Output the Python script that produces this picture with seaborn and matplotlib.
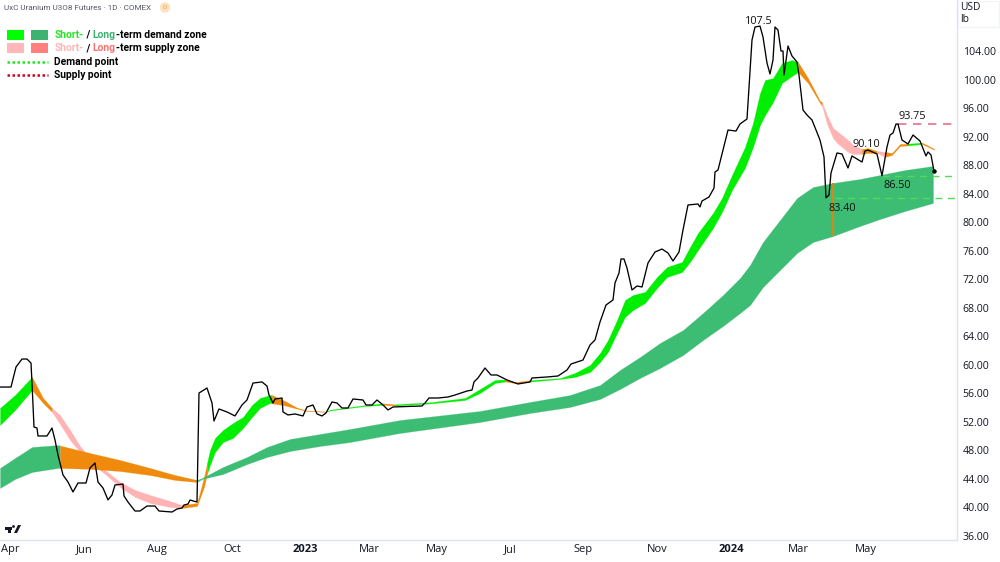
import matplotlib
matplotlib.use("Agg")
import matplotlib.pyplot as plt
import matplotlib.patches as mpatches
import pandas as pd
import seaborn as sns

# Front-month close, indexed by session number on the time scale
price_sessions = [0, 11, 16, 22, 27, 31, 32, 34, 37, 38, 47, 52, 55, 58, 63, 68, 73, 78, 86, 90, 95, 98, 103, 108, 112,
                  115, 123, 124, 128, 135, 140, 147, 155, 159, 172, 177, 182, 184, 188, 190, 197, 199, 207, 212, 214,
                  219, 227, 235, 242, 247, 253, 262, 267, 269, 273, 275, 282, 283, 288, 295, 303, 307, 313, 317, 322,
                  326, 332, 337, 342, 348, 353, 363, 366, 372, 377, 383, 388, 393, 422, 425, 429, 438, 448, 455, 467,
                  472, 474, 478, 485, 491, 497, 507, 518, 530, 532, 547, 558, 567, 571, 583, 590, 595, 600, 606, 613,
                  615, 619, 621, 624, 627, 632, 637, 642, 648, 655, 662, 668, 673, 679, 683, 688, 698, 700, 702, 709,
                  714, 715, 718, 723, 728, 736, 740, 747, 749, 752, 755, 760, 763, 767, 770, 773, 775, 778, 781, 783,
                  784, 788, 792, 797, 799, 803, 807, 812, 820, 824, 826, 829, 831, 837, 842, 848, 852, 862, 865, 868,
                  877, 882, 887, 890, 893, 896, 898, 902, 908, 913, 920, 926, 928, 931, 934]
price_close = [56.84, 56.84, 59.65, 60.77, 60.77, 60.2, 57.4, 51.23, 51.09, 49.97, 49.97, 51.09, 49.4, 47.3, 44.5,
               43.51, 42.11, 43.37, 43.37, 45.48, 46.18, 43.51, 42.67, 41.0, 41.69,
               43.09, 43.23, 41.55, 40.7, 39.44, 39.44, 40.14, 40.14, 39.44, 39.3, 39.72, 39.86, 40.28, 40.42, 40.98,
               40.7, 56.0, 56.7, 54.6, 52.07,
               53.76, 53.34, 52.78, 54.32, 55.02, 57.4, 57.55, 56.98, 55.72, 54.6, 55.16, 55.3, 53.34, 52.92, 53.06,
               52.78, 54.04, 54.32, 53.06, 52.78,
               53.2, 54.74, 54.6, 53.9, 53.9, 55.16, 55.02, 54.32, 54.32, 55.02, 54.32, 53.62, 54.04, 54.18, 54.6,
               55.3, 55.3, 55.44, 55.72, 56.28,
               56.42, 57.55, 58.11, 59.51, 58.53, 58.53, 57.83, 57.27, 57.55, 58.11, 58.25, 58.39, 59.23, 60.07, 60.63,
               62.74, 63.44, 65.97, 68.35, 69.06,
               71.44, 72.84, 74.81, 74.81, 73.55, 70.46, 71.02, 70.88, 74.25, 75.79, 76.21, 75.65, 74.53, 75.79, 78.88,
               82.39, 82.53, 82.11, 82.95, 83.51,
               84.77, 87.02, 87.3, 90.11, 92.91, 92.77, 93.76, 94.46, 98.95, 105.55, 107.37, 107.5, 105.97, 102.32,
               100.77, 102.74, 107.37, 106.95, 104.0, 104.0,
               100.63, 104.7, 103.3, 102.46, 100.63, 95.72, 95.02, 94.32, 91.51, 89.13, 83.4, 83.79, 86.88, 89.69,
               89.55, 87.58, 89.27, 88.42, 89.97, 90.1,
               89.55, 86.5, 90.53, 92.21, 92.49, 93.75, 93.75, 91.51, 90.95, 92.21, 91.37, 89.27, 89.83, 89.41, 87.16]

# Short-term zone edges; the phase letter colours the stretch up to the next session
short_sessions = [0, 15, 32, 43, 52, 60, 70, 80, 90, 105, 120, 135, 150, 170, 182, 197, 204,
                  207, 210, 215, 223, 233, 243, 252, 260, 270, 272, 283, 297, 307, 326, 330, 365, 383,
                  395, 430, 465, 480, 495, 505, 515, 530, 560, 575, 590, 600, 608, 617, 625, 633, 645, 657,
                  667, 682, 690, 698, 713, 722, 732, 745, 753, 760, 765, 773, 782, 792, 798, 808, 820,
                  822, 827, 833, 837, 848, 853, 862, 868, 877, 885, 892, 900, 908, 922, 934]
short_upper = [53.9, 55.72, 58.25, 55.3, 53.9, 52.91, 50.81, 48.56, 46.88, 45.2, 43.51, 42.39, 41.69, 40.84, 40.28,
               40.56, 44.21,
               46.18, 48.0, 49.69, 50.81, 51.79, 52.63, 54.32, 55.3, 55.72, 55.72, 55.02, 53.95, 53.55, 53.4, 53.66,
               54.3, 54.55,
               54.42, 54.7, 55.3, 56.56, 57.83, 57.9, 57.55, 57.8, 58.09, 58.81, 59.93, 61.62, 63.44, 66.25, 69.05,
               69.76, 70.18, 72.28,
               73.69, 74.39, 76.49, 78.46, 81.26, 83.37, 86.6, 90.53, 93.9, 98.11, 99.93, 100.2, 102.32, 102.74,
               102.46, 100.2, 97.0,
               96.84, 95.0, 93.2, 92.77, 91.51, 90.81, 90.25, 90.39, 89.97, 89.83, 89.69, 90.95, 91.0, 91.15, 90.3]
short_lower = [51.51, 53.62, 56.42, 54.6, 53.34, 51.65, 49.41, 47.72, 46.32, 44.63, 42.81, 41.41, 40.56, 40.0, 39.86,
               40.14, 42.81,
               44.63, 45.9, 47.72, 49.12, 49.69, 51.09, 52.63, 53.9, 54.6, 54.53, 54.32, 53.8, 53.47, 53.34, 53.55,
               54.18, 54.32,
               54.25, 54.53, 55.02, 56.0, 57.41, 57.6, 57.4, 57.6, 57.97, 58.25, 58.95, 60.35, 61.76, 64.42, 66.67,
               67.65, 68.63, 70.74,
               72.28, 72.98, 74.39, 76.07, 79.16, 81.41, 84.49, 87.6, 90.53, 93.61, 95.0, 96.84, 99.51, 100.49,
               101.05, 99.51, 96.7,
               96.28, 93.76, 91.79, 91.09, 89.83, 89.55, 89.55, 89.69, 89.69, 89.13, 89.41, 90.67, 90.74, 90.95, 90.15]
short_phase = list("DD" "TT" "SSSSSSSSSS" "TTT" "DDDDDDDDD" "TTTT" "DDD" "T" "DDDDD" "TT"
                   "DDDDDDDDDDDDDDDDDDDDDDDDD" "TTT" "SSSSSS" "TT" "S" "TTT" "D" "TT")

# Long-term zone edges, same convention
long_sessions = [0, 15, 32, 58, 60, 90, 120, 150, 175, 197, 202, 223, 247, 267, 290, 320, 350, 400, 480, 530, 570, 600,
                 620, 640, 660, 683, 703, 723, 740, 750, 763, 780, 797, 813, 833, 860, 880, 905, 933]
long_upper = [45.48, 46.88, 48.42, 48.7, 48.63, 47.58, 46.6, 45.48, 44.49, 43.79, 44.07, 45.62, 47.02, 48.42, 49.55,
              50.25, 50.95, 52.21, 53.48, 54.74, 55.72, 57.12,
              59.23, 61.05, 63.02, 64.84, 67.23, 69.76, 72.14, 73.97, 77.2, 80.28, 83.37, 84.91, 85.48, 86.04, 86.6,
              87.3, 87.86]
long_lower = [42.67, 43.93, 44.91, 45.48, 45.48, 45.35, 45.05, 44.49, 43.79, 43.51, 43.93, 44.63, 46.03, 47.02, 47.86,
              48.56, 49.12, 50.39, 51.93, 53.19, 54.04, 55.16,
              56.56, 58.11, 59.51, 61.33, 63.44, 65.41, 67.23, 68.35, 70.88, 73.27, 75.65, 77.19, 78.03, 79.44, 80.42,
              81.54, 82.67]
long_phase = list("DDDD" "TTTTT" + "D" * 30)

# Key levels
level_labels = ["107.5", "93.75", "90.10", "86.50", "83.40"]
level_values = [107.5, 93.75, 90.10, 86.50, 83.40]
level_sessions = [760, 896, 868, 882, 826]
demand_levels = [86.50, 83.40]
demand_starts = [882, 835]
supply_levels = [93.75]
supply_starts = [898]
wick_session = 833

price_ticks = list(range(36, 108, 4))
time_ticks = [10, 84, 157, 232, 305, 369, 437, 510, 583, 657, 731, 798, 866]
time_labels = ["Apr", "Jun", "Aug", "Oct", "2023", "Mar", "May", "Jul", "Sep", "Nov", "2024", "Mar", "May"]

SHORT = {"D": "#00ee00", "S": "#ffb3b3", "T": "#f08a0c"}
LONG = {"D": "#3dbd74", "S": "#ff8080", "T": "#f08a0c"}
INK = "#131722"
GRID = "#e0e3eb"

sns.set_theme(style="white")
plt.rcParams["font.family"] = ["Open Sans", "DejaVu Sans"]

fig = plt.figure(figsize=(10, 5.62), dpi=100)
ax = fig.add_axes([0, 22 / 562, 0.957, 540 / 562])
ax.set_xlim(0, 957)
ax.set_ylim(35.37, 111.16)


def draw_zone(sessions, upper, lower, phase, palette, z):
    # Consecutive stretches of one phase are filled as a single polygon
    start = 0
    for i in range(1, len(sessions)):
        if i == len(sessions) - 1 or phase[i] != phase[start]:
            stop = i + 1
            ax.fill_between(sessions[start:stop], lower[start:stop], upper[start:stop],
                            color=palette[phase[start]], linewidth=0.15, zorder=z)
            start = i


draw_zone(short_sessions, short_upper, short_lower, short_phase, SHORT, 2)
draw_zone(long_sessions, long_upper, long_lower, long_phase, LONG, 3)
wick = long_sessions.index(wick_session)
ax.vlines(wick_session, long_lower[wick], long_upper[wick], color="#d08a1c", linewidth=1.6, zorder=4)

ax.hlines(demand_levels, demand_starts, 957, colors="#55d855", linestyles=(0, (5, 4)), linewidth=1.0, zorder=4)
ax.hlines(supply_levels, supply_starts, 957, colors="#e8708a", linestyles=(0, (5, 4)), linewidth=1.2, zorder=4)

price = pd.DataFrame({"session": price_sessions, "close": price_close})
sns.lineplot(data=price, x="session", y="close", color="black", linewidth=0.95, estimator=None, sort=False, ax=ax,
             zorder=5)
ax.plot(price_sessions[-1], price_close[-1], "o", color="black", markersize=2.2, zorder=6)

label_offsets = [(-0.6, -1), (12, 1.5), (-1.5, 0), (11, -11), (12, -11.5)]
for text, value, session, offset in zip(level_labels, level_values, level_sessions, label_offsets):
    ax.annotate(text, (session, value), xytext=offset, textcoords="offset points", ha="center", va="bottom",
                fontsize=7.8, color="#111111", zorder=7)

ax.set_xlabel("")
ax.set_ylabel("")
ax.yaxis.tick_right()
ax.set_yticks(price_ticks)
ax.set_yticklabels([f"{t:.2f}" for t in price_ticks], fontsize=7.6, color=INK)
ax.set_xticks(time_ticks)
ax.set_xticklabels(time_labels, fontsize=8.0, color=INK)
for tick, label in zip(ax.get_xticklabels(), time_labels):
    if label.isdigit():
        tick.set_fontweight("bold")
ax.tick_params(axis="both", length=0, pad=4)
ax.tick_params(axis="x", pad=3)
for side in ("top", "left"):
    ax.spines[side].set_visible(False)
for side in ("right", "bottom"):
    ax.spines[side].set_color(GRID)
    ax.spines[side].set_linewidth(1)


def fx(px):
    return px / 1000


def fy(py):
    return 1 - py / 562


# Header and currency selector
fig.text(fx(4), fy(8), "UxC Uranium U3O8 Futures · 1D · COMEX", fontsize=5.9, color="#555a66", va="center",
         family=["Roboto", "DejaVu Sans"])
fig.add_artist(mpatches.Circle((165, 562 - 7.5), 4.5, transform=None, color="#fde3bd", zorder=5))
fig.text(fx(165), fy(7.5), "D", fontsize=4.5, color="#f29d38", ha="center", va="center", zorder=6)
fig.text(fx(960), fy(8), "USD", fontsize=7.4, color=INK, va="center")
fig.text(fx(960), fy(20), "lb", fontsize=7.4, color=INK, va="center")
fig.add_artist(mpatches.Rectangle((958, 562 - 27), 41, 26, transform=None, facecolor="white", edgecolor="#f0f3fa",
                                  linewidth=0.8, zorder=1))

# Legend key
legend_rows = [
    (35, ("#00ff00", "#3cb371"), [("Short-", "#22e822"), (" / ", "black"), ("Long", "#3cb371"),
                                  ("-term demand zone", "black")]),
    (48, ("#ffb6b6", "#ff7f7f"), [("Short-", "#ffb6b6"), (" / ", "black"), ("Long", "#ff7070"),
                                  ("-term supply zone", "black")]),
]
legend_font = dict(fontsize=7.35, fontweight="bold", family=["Roboto", "DejaVu Sans"], va="center")
for py, swatches, pieces in legend_rows:
    for left, colour in zip((7, 31), swatches):
        fig.add_artist(mpatches.Rectangle((left, 562 - py - 5), 17, 10.5, transform=None, facecolor=colour,
                                          edgecolor="none"))
    previous = fig.text(fx(54.5), fy(py), pieces[0][0], color=pieces[0][1], **legend_font)
    for text, colour in pieces[1:]:
        previous = ax.annotate(text, xy=(1, 0.5), xycoords=previous, xytext=(0, 0), textcoords="offset points",
                               color=colour, annotation_clip=False, **legend_font)
for py, colour, text in [(62, "#22e822", "Demand point"), (75, "#d0021b", "Supply point")]:
    fig.add_artist(plt.Line2D([fx(7), fx(48)], [fy(py), fy(py)], color=colour, linewidth=1.8,
                              linestyle=(0, (1, 1))))
    fig.text(fx(54.5), fy(py), text, color="black", **legend_font)

# Platform mark in the lower-left corner
logo = "#131722"
fig.add_artist(mpatches.Rectangle((5, 562 - 530), 7, 3, transform=None, facecolor=logo, edgecolor="none"))
fig.add_artist(mpatches.Rectangle((8, 562 - 533), 3, 5, transform=None, facecolor=logo, edgecolor="none"))
fig.add_artist(mpatches.Circle((13.5, 562 - 526.5), 1.4, transform=None, facecolor=logo, edgecolor="none"))
fig.add_artist(mpatches.Polygon([(14, 562 - 533), (17, 562 - 533), (21, 562 - 525), (18, 562 - 525)], closed=True,
                                transform=None, facecolor=logo, edgecolor="none"))

fig.savefig("out.png", dpi=100)
